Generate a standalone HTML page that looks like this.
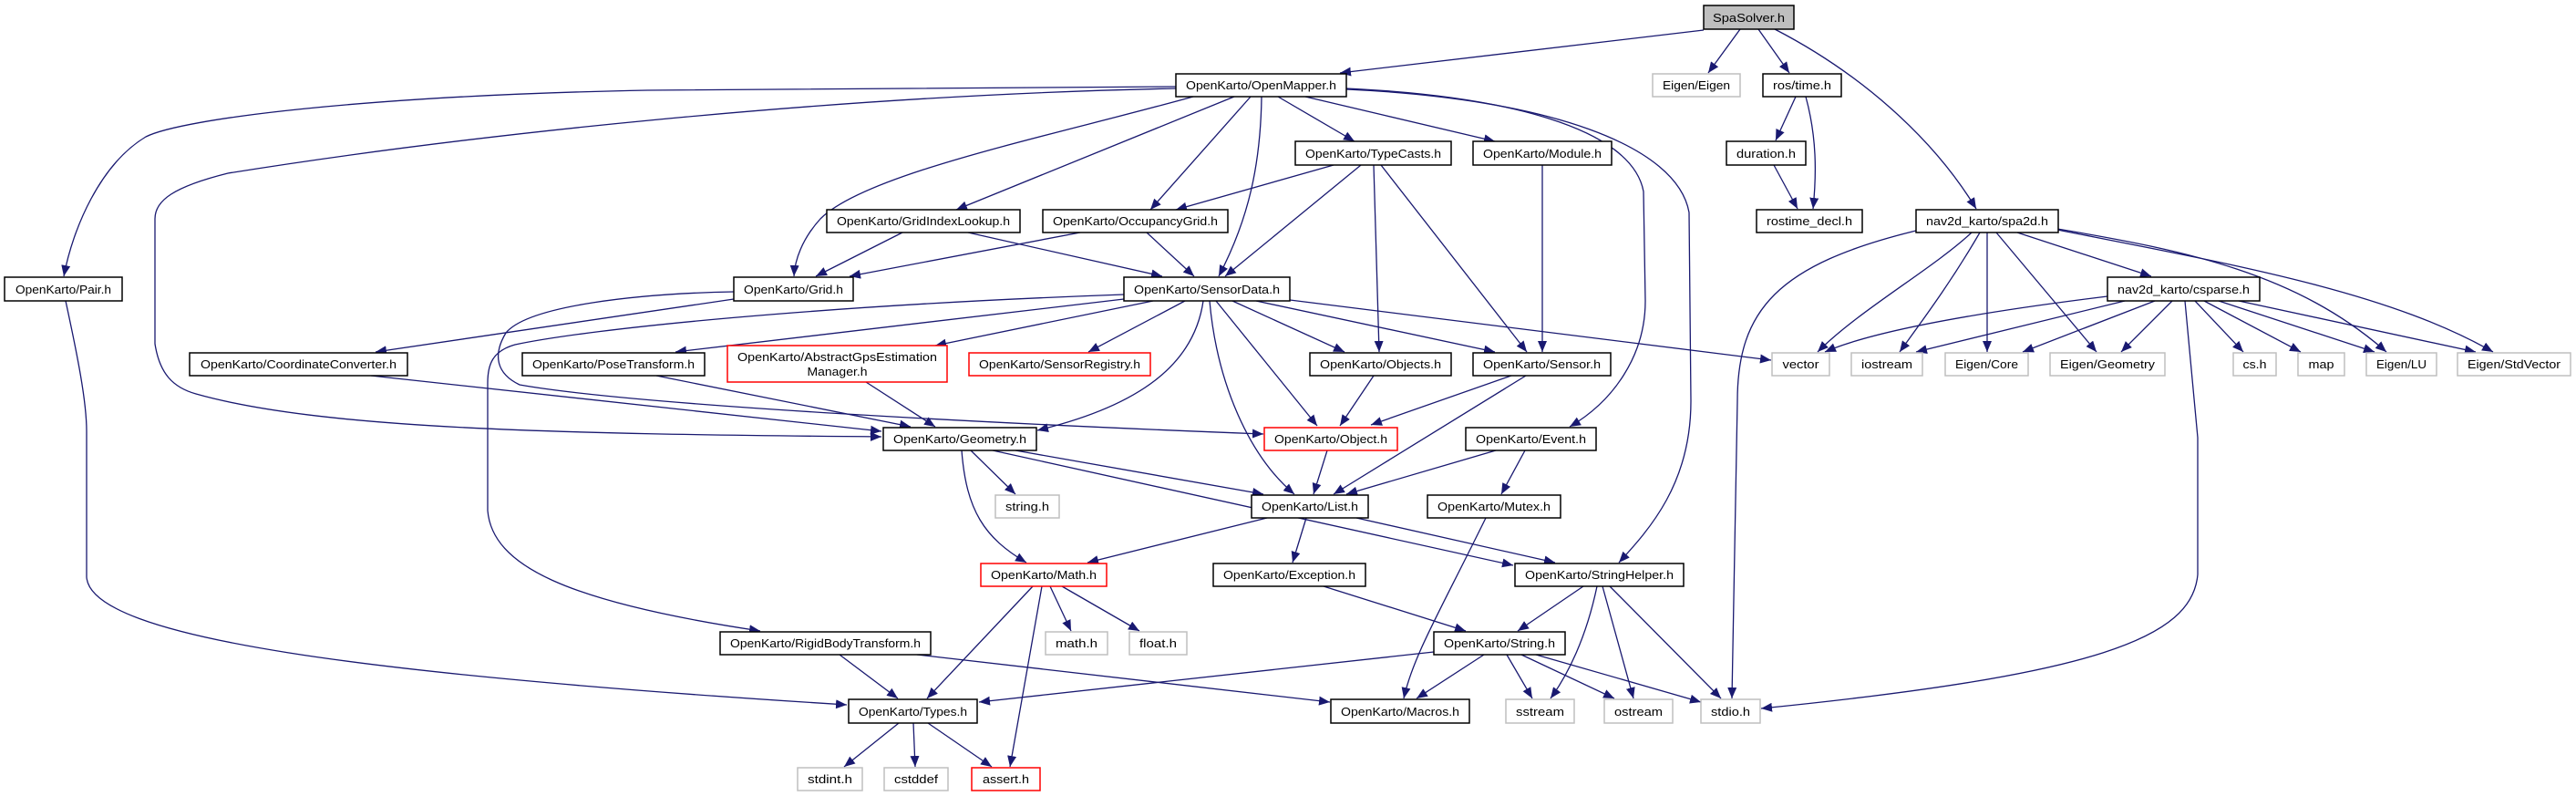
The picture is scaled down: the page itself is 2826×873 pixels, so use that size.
<!DOCTYPE html>
<html><head><meta charset="utf-8"><style>
html,body{margin:0;padding:0;background:#fff;}
svg{display:block;}
text{font-family:"Liberation Sans",sans-serif;font-size:13px;fill:#000;}
</style></head><body>
<svg width="2826" height="873" viewBox="0 0 2826 873" xmlns="http://www.w3.org/2000/svg">
<defs>
<marker id="a" markerUnits="userSpaceOnUse" markerWidth="14" markerHeight="10" refX="12" refY="5" orient="auto">
<path d="M0,0 L12,5 L0,10 z" fill="#191970"/>
</marker>
</defs>
<g fill="none" stroke="#191970" stroke-width="1.3" marker-end="url(#a)">
<path d="M1869 33 L1470 80"/>
<path d="M1909 32 L1874 80"/>
<path d="M1929 32 L1963 80"/>
<path d="M1947 32 C2040 80 2120 150 2168 229"/>
<path d="M1970 106 L1948 154"/>
<path d="M1981 106 C1993 150 1993 190 1989 229"/>
<path d="M1946 181 L1972 229"/>
<path d="M1290 95 L710 99 C400 105 200 130 160 150 C110 180 80 250 70 303"/>
<path d="M1290 97 C900 105 500 150 250 190 C190 205 170 220 170 240 L170 377 C175 410 190 425 215 432 C350 470 600 476 967 479"/>
<path d="M1309 106 C1150 150 950 190 900 240 C880 262 872 285 871 303"/>
<path d="M1354 106 L1049 230"/>
<path d="M1372 106 L1262 230"/>
<path d="M1384 106 C1383 180 1370 240 1337 303"/>
<path d="M1402 106 L1486 155"/>
<path d="M1432 106 L1640 155"/>
<path d="M1477 97 C1650 105 1790 140 1803 210 L1805 330 C1805 390 1770 440 1722 468"/>
<path d="M1477 98 C1700 108 1840 160 1853 233 L1855 440 C1855 530 1810 580 1776 617"/>
<path d="M1463 181 L1290 230"/>
<path d="M1493 181 L1344 303"/>
<path d="M1507 181 L1513 386"/>
<path d="M1515 181 L1675 386"/>
<path d="M1692 181 L1692 386"/>
<path d="M990 255 L895 303"/>
<path d="M1062 255 L1275 303"/>
<path d="M1185 255 L932 303"/>
<path d="M1258 255 L1310 303"/>
<path d="M805 328 L412 386"/>
<path d="M805 320 C700 322 580 335 555 365 C540 390 545 410 570 422 C700 445 1100 465 1386 476"/>
<path d="M1233 323 C900 335 650 360 565 378 C540 385 535 400 535 420 L535 560 C540 620 620 660 834 692"/>
<path d="M1233 328 L741 386"/>
<path d="M1265 330 L1026 379"/>
<path d="M1300 330 L1194 386"/>
<path d="M1320 330 C1310 400 1250 445 1138 472"/>
<path d="M1327 330 C1335 420 1370 500 1420 542"/>
<path d="M1334 330 L1445 467"/>
<path d="M1352 330 L1475 386"/>
<path d="M1378 330 L1640 386"/>
<path d="M1415 329 L1943 395"/>
<path d="M1507 412 L1470 467"/>
<path d="M1658 412 L1504 466"/>
<path d="M1674 412 L1463 542"/>
<path d="M1456 494 L1441 542"/>
<path d="M1641 494 L1477 542"/>
<path d="M1673 494 L1647 542"/>
<path d="M407 412 L967 473"/>
<path d="M720 412 L999 468"/>
<path d="M950 419 L1026 468"/>
<path d="M1065 494 L1114 542"/>
<path d="M1055 494 C1060 560 1080 590 1126 617"/>
<path d="M1114 494 L1386 542"/>
<path d="M1089 494 L1660 620"/>
<path d="M1390 568 L1193 617"/>
<path d="M1433 568 L1418 617"/>
<path d="M1488 568 L1706 617"/>
<path d="M1452 643 L1608 692"/>
<path d="M1737 643 L1665 692"/>
<path d="M1752 643 C1740 700 1720 740 1701 766"/>
<path d="M1758 643 L1792 766"/>
<path d="M1766 643 L1888 766"/>
<path d="M1628 718 L1554 766"/>
<path d="M1653 718 L1681 766"/>
<path d="M1669 718 L1771 766"/>
<path d="M1685 718 L1866 770"/>
<path d="M1573 715 L1074 770"/>
<path d="M1630 568 C1580 670 1550 720 1540 766"/>
<path d="M921 718 L985 766"/>
<path d="M1006 718 L1459 770"/>
<path d="M72 330 C85 390 95 440 95 473 L95 633 C100 700 400 740 929 773"/>
<path d="M1133 643 L1017 766"/>
<path d="M1143 643 L1108 841"/>
<path d="M1152 643 L1175 692"/>
<path d="M1165 643 L1250 692"/>
<path d="M986 793 L926 841"/>
<path d="M1002 793 L1004 841"/>
<path d="M1018 793 L1088 841"/>
<path d="M2163 255 C2120 295 2040 340 1994 386"/>
<path d="M2172 255 C2140 310 2110 350 2084 386"/>
<path d="M2180 255 L2180 386"/>
<path d="M2190 255 L2300 386"/>
<path d="M2213 255 L2360 303"/>
<path d="M2257 251 C2400 275 2520 300 2618 386"/>
<path d="M2257 252 C2450 290 2620 320 2735 386"/>
<path d="M2102 253 C1950 290 1906 340 1906 440 L1900 766"/>
<path d="M2312 325 C2150 345 2050 365 2002 386"/>
<path d="M2331 330 L2102 386"/>
<path d="M2364 330 L2219 386"/>
<path d="M2383 330 L2327 386"/>
<path d="M2408 330 L2461 386"/>
<path d="M2418 330 L2524 386"/>
<path d="M2434 330 L2605 386"/>
<path d="M2456 330 L2716 386"/>
<path d="M2397 330 L2411 480 L2411 630 C2405 700 2300 740 1932 777"/>
</g>
<g stroke-width="1.5">
<!-- black nodes -->
<g fill="#fff" stroke="#000">
<rect x="1290" y="81" width="187" height="25"/>
<rect x="1934" y="81" width="86" height="25"/>
<rect x="1421" y="155" width="171" height="26"/>
<rect x="1616" y="155" width="152" height="26"/>
<rect x="1894" y="155" width="87" height="26"/>
<rect x="907" y="230" width="212" height="25"/>
<rect x="1144" y="230" width="203" height="25"/>
<rect x="1927" y="230" width="116" height="25"/>
<rect x="2102" y="230" width="156" height="25"/>
<rect x="5" y="304" width="129" height="26"/>
<rect x="805" y="304" width="131" height="26"/>
<rect x="1233" y="304" width="182" height="26"/>
<rect x="2312" y="304" width="167" height="26"/>
<rect x="208" y="387" width="239" height="25"/>
<rect x="573" y="387" width="200" height="25"/>
<rect x="1437" y="387" width="155" height="25"/>
<rect x="1616" y="387" width="151" height="25"/>
<rect x="969" y="469" width="168" height="25"/>
<rect x="1608" y="469" width="143" height="25"/>
<rect x="1373" y="543" width="128" height="25"/>
<rect x="1566" y="543" width="146" height="25"/>
<rect x="1331" y="618" width="167" height="25"/>
<rect x="1662" y="618" width="185" height="25"/>
<rect x="790" y="693" width="231" height="25"/>
<rect x="1573" y="693" width="144" height="25"/>
<rect x="931" y="767" width="141" height="26"/>
<rect x="1460" y="767" width="152" height="26"/>
</g>
<rect x="1869" y="6" width="99" height="26" fill="#bfbfbf" stroke="#000"/>
<!-- red nodes -->
<g fill="#fff" stroke="#ff0000">
<rect x="798" y="379" width="241" height="40"/>
<rect x="1063" y="387" width="199" height="25"/>
<rect x="1387" y="469" width="146" height="25"/>
<rect x="1076" y="618" width="138" height="25"/>
<rect x="1066" y="842" width="75" height="25"/>
</g>
<!-- gray nodes -->
<g fill="#fff" stroke="#bfbfbf">
<rect x="1813" y="81" width="96" height="25"/>
<rect x="1944" y="387" width="63" height="25"/>
<rect x="2031" y="387" width="78" height="25"/>
<rect x="2134" y="387" width="91" height="25"/>
<rect x="2249" y="387" width="126" height="25"/>
<rect x="2450" y="387" width="47" height="25"/>
<rect x="2521" y="387" width="51" height="25"/>
<rect x="2596" y="387" width="77" height="25"/>
<rect x="2696" y="387" width="124" height="25"/>
<rect x="1092" y="543" width="70" height="25"/>
<rect x="1147" y="693" width="68" height="25"/>
<rect x="1239" y="693" width="63" height="25"/>
<rect x="1652" y="767" width="75" height="26"/>
<rect x="1760" y="767" width="75" height="26"/>
<rect x="1866" y="767" width="65" height="26"/>
<rect x="875" y="842" width="71" height="25"/>
<rect x="970" y="842" width="70" height="25"/>
</g>
</g>
<g text-anchor="middle" lengthAdjust="spacingAndGlyphs">
<text x="1918.5" y="24" textLength="79" lengthAdjust="spacingAndGlyphs">SpaSolver.h</text>
<text x="1383.5" y="98" textLength="165" lengthAdjust="spacingAndGlyphs">OpenKarto/OpenMapper.h</text>
<text x="1861" y="98" textLength="74" lengthAdjust="spacingAndGlyphs">Eigen/Eigen</text>
<text x="1977" y="98" textLength="64" lengthAdjust="spacingAndGlyphs">ros/time.h</text>
<text x="1506.5" y="173" textLength="149" lengthAdjust="spacingAndGlyphs">OpenKarto/TypeCasts.h</text>
<text x="1692" y="173" textLength="130" lengthAdjust="spacingAndGlyphs">OpenKarto/Module.h</text>
<text x="1937.5" y="173" textLength="65" lengthAdjust="spacingAndGlyphs">duration.h</text>
<text x="1013" y="247" textLength="190" lengthAdjust="spacingAndGlyphs">OpenKarto/GridIndexLookup.h</text>
<text x="1245.5" y="247" textLength="181" lengthAdjust="spacingAndGlyphs">OpenKarto/OccupancyGrid.h</text>
<text x="1985" y="247" textLength="94" lengthAdjust="spacingAndGlyphs">rostime_decl.h</text>
<text x="2180" y="247" textLength="134" lengthAdjust="spacingAndGlyphs">nav2d_karto/spa2d.h</text>
<text x="69.5" y="322" textLength="105" lengthAdjust="spacingAndGlyphs">OpenKarto/Pair.h</text>
<text x="870.5" y="322" textLength="109" lengthAdjust="spacingAndGlyphs">OpenKarto/Grid.h</text>
<text x="1324" y="322" textLength="160" lengthAdjust="spacingAndGlyphs">OpenKarto/SensorData.h</text>
<text x="2395.5" y="322" textLength="145" lengthAdjust="spacingAndGlyphs">nav2d_karto/csparse.h</text>
<text x="327.5" y="404" textLength="215" lengthAdjust="spacingAndGlyphs">OpenKarto/CoordinateConverter.h</text>
<text x="673" y="404" textLength="178" lengthAdjust="spacingAndGlyphs">OpenKarto/PoseTransform.h</text>
<text x="918.5" y="396" textLength="219" lengthAdjust="spacingAndGlyphs">OpenKarto/AbstractGpsEstimation</text>
<text x="918.5" y="412" textLength="66" lengthAdjust="spacingAndGlyphs">Manager.h</text>
<text x="1162.5" y="404" textLength="177" lengthAdjust="spacingAndGlyphs">OpenKarto/SensorRegistry.h</text>
<text x="1514.5" y="404" textLength="133" lengthAdjust="spacingAndGlyphs">OpenKarto/Objects.h</text>
<text x="1691.5" y="404" textLength="129" lengthAdjust="spacingAndGlyphs">OpenKarto/Sensor.h</text>
<text x="1975.5" y="404" textLength="40" lengthAdjust="spacingAndGlyphs">vector</text>
<text x="2070" y="404" textLength="56" lengthAdjust="spacingAndGlyphs">iostream</text>
<text x="2179.5" y="404" textLength="69" lengthAdjust="spacingAndGlyphs">Eigen/Core</text>
<text x="2312" y="404" textLength="104" lengthAdjust="spacingAndGlyphs">Eigen/Geometry</text>
<text x="2473.5" y="404" textLength="26" lengthAdjust="spacingAndGlyphs">cs.h</text>
<text x="2546.5" y="404" textLength="28" lengthAdjust="spacingAndGlyphs">map</text>
<text x="2634.5" y="404" textLength="55" lengthAdjust="spacingAndGlyphs">Eigen/LU</text>
<text x="2758" y="404" textLength="102" lengthAdjust="spacingAndGlyphs">Eigen/StdVector</text>
<text x="1053" y="486" textLength="146" lengthAdjust="spacingAndGlyphs">OpenKarto/Geometry.h</text>
<text x="1460" y="486" textLength="124" lengthAdjust="spacingAndGlyphs">OpenKarto/Object.h</text>
<text x="1679.5" y="486" textLength="121" lengthAdjust="spacingAndGlyphs">OpenKarto/Event.h</text>
<text x="1127" y="560" textLength="48" lengthAdjust="spacingAndGlyphs">string.h</text>
<text x="1437" y="560" textLength="106" lengthAdjust="spacingAndGlyphs">OpenKarto/List.h</text>
<text x="1639" y="560" textLength="124" lengthAdjust="spacingAndGlyphs">OpenKarto/Mutex.h</text>
<text x="1145" y="635" textLength="116" lengthAdjust="spacingAndGlyphs">OpenKarto/Math.h</text>
<text x="1414.5" y="635" textLength="145" lengthAdjust="spacingAndGlyphs">OpenKarto/Exception.h</text>
<text x="1754.5" y="635" textLength="163" lengthAdjust="spacingAndGlyphs">OpenKarto/StringHelper.h</text>
<text x="905.5" y="710" textLength="209" lengthAdjust="spacingAndGlyphs">OpenKarto/RigidBodyTransform.h</text>
<text x="1181" y="710" textLength="46" lengthAdjust="spacingAndGlyphs">math.h</text>
<text x="1270.5" y="710" textLength="41" lengthAdjust="spacingAndGlyphs">float.h</text>
<text x="1645" y="710" textLength="122" lengthAdjust="spacingAndGlyphs">OpenKarto/String.h</text>
<text x="1001.5" y="785" textLength="119" lengthAdjust="spacingAndGlyphs">OpenKarto/Types.h</text>
<text x="1536" y="785" textLength="130" lengthAdjust="spacingAndGlyphs">OpenKarto/Macros.h</text>
<text x="1689.5" y="785" textLength="53" lengthAdjust="spacingAndGlyphs">sstream</text>
<text x="1797.5" y="785" textLength="53" lengthAdjust="spacingAndGlyphs">ostream</text>
<text x="1898.5" y="785" textLength="43" lengthAdjust="spacingAndGlyphs">stdio.h</text>
<text x="910.5" y="859" textLength="49" lengthAdjust="spacingAndGlyphs">stdint.h</text>
<text x="1005" y="859" textLength="48" lengthAdjust="spacingAndGlyphs">cstddef</text>
<text x="1103.5" y="859" textLength="51" lengthAdjust="spacingAndGlyphs">assert.h</text>
</g>
</svg>
</body></html>
